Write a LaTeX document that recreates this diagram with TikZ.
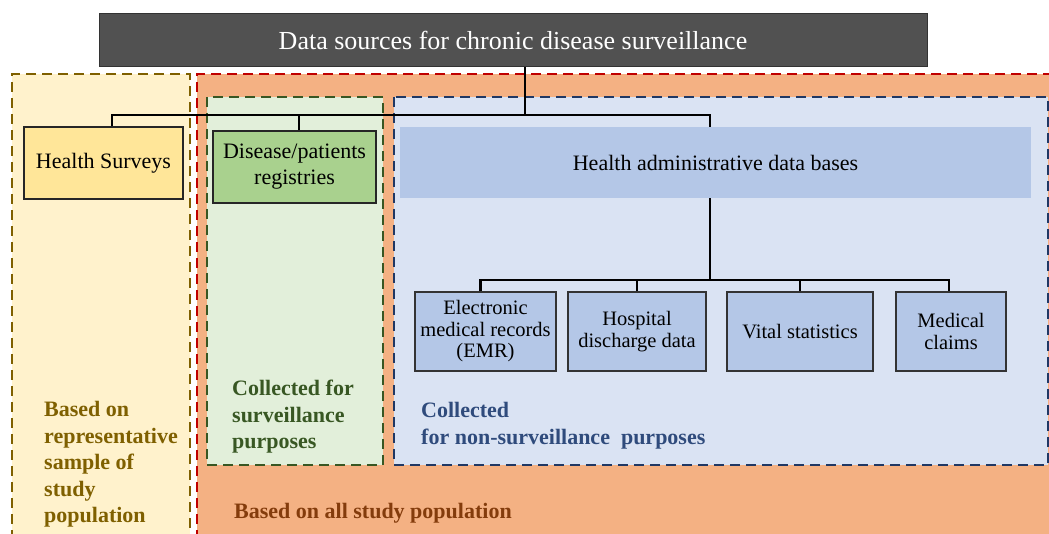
\documentclass[tikz,border=0pt]{standalone}
\usepackage{fontspec}
\setmainfont{Liberation Serif}
\definecolor{ybg}{HTML}{FFF2CC}
\definecolor{ybd}{HTML}{7F6000}
\definecolor{obg}{HTML}{F4B183}
\definecolor{rbd}{HTML}{C00000}
\definecolor{gbg}{HTML}{E2EFDA}
\definecolor{gbd}{HTML}{385723}
\definecolor{bbg}{HTML}{DAE3F3}
\definecolor{bbd}{HTML}{203864}
\definecolor{hsfill}{HTML}{FFE699}
\definecolor{regfill}{HTML}{A9D18E}
\definecolor{hadfill}{HTML}{B4C7E7}
\definecolor{titlefill}{HTML}{515151}
\definecolor{brownt}{HTML}{843C0C}
\definecolor{navyt}{HTML}{2F4B7C}
\begin{document}
\begin{tikzpicture}[x=1pt,y=-1pt,
  region/.style={line width=2.9pt, dash pattern=on 10pt off 6pt},
  box/.style={draw=black!85, line width=1.4pt, inner sep=0pt, align=center, font=\fontsize{22}{26}\selectfont},
  subbox/.style={draw=black!80, line width=1.4pt, fill=hadfill, inner sep=0pt, align=center, minimum height=79pt, font=\fontsize{20.5}{21.5}\selectfont},
  link/.style={line width=1.8pt},
  sublink/.style={line width=2.3pt},
  lbl/.style={inner sep=0pt, align=left, anchor=north west, font=\fontsize{22}{26.6}\selectfont\bfseries}
]
\useasboundingbox (0,0) rectangle (1049,534);
\fill[white] (0,0) rectangle (1049,534);
% regions
\fill[ybg] (12,74) rectangle (190,540);
\draw[region, ybd] (12,540) -- (12,74) -- (190,74) -- (190,540);
\fill[obg] (197,74) rectangle (1049,540);
\draw[region, rbd] (197,540) -- (197,74) -- (1052,74);
\filldraw[region, draw=gbd, fill=gbg] (207,97) rectangle (383,465);
\filldraw[region, draw=bbd, fill=bbg] (394,97) rectangle (1048,465);

% nodes
\node[draw=black!80, line width=1pt, fill=titlefill, minimum width=828pt, minimum height=53pt, inner sep=0pt,
      text=white, font=\fontsize{26}{30}\selectfont] (title) at (513,40.5) {Data sources for chronic disease surveillance};
\node[box, fill=hsfill, minimum width=159pt, minimum height=72pt] (hs) at (103.5,163) {Health Surveys};
\node[box, fill=regfill, minimum width=163pt, minimum height=72pt] (reg) at (294.5,167) {Disease/patients\\registries};
\node[fill=hadfill, minimum width=631pt, minimum height=71pt, inner sep=0pt, font=\fontsize{22}{26}\selectfont] (had) at (715.5,162.5) {Health administrative data bases};
\node[subbox, minimum width=141pt] (emr) at (485.5,331.5) {Electronic\\medical records\\(EMR)};
\node[subbox, minimum width=138pt] (hosp) at (637,331.5) {Hospital\\discharge data};
\node[subbox, minimum width=146pt] (vital) at (800,331.5) {Vital statistics};
\node[subbox, minimum width=110pt] (med) at (951,331.5) {Medical\\claims};

% connectors
\coordinate (bus) at (525,115);
\coordinate (hub) at (710,280);
\draw[link] (bus |- title.south) -- (bus);
\draw[link] ([xshift=8.5pt]hs.north) |- (bus) -| ([xshift=-5.5pt]had.north);
\draw[link] ([xshift=4.5pt]reg.north) -- ([xshift=4.5pt]reg.north |- bus);
\draw[sublink] (hub |- had.south) -- (hub);
\draw[sublink] ([xshift=-5pt]emr.north) |- (hub) -| ([xshift=-2pt]med.north);
\draw[sublink] (hosp.north) -- (hosp.north |- hub);
\draw[sublink] (vital.north) -- (vital.north |- hub);

% labels
\node[lbl, text=ybd] (lrep) at (44,401) {Based on\\representative\\sample of\\study\\population};
\node[lbl, text=gbd] (lsurv) at (232,380) {Collected for\\surveillance\\purposes};
\node[lbl, text=navyt] (lnon) at (421,402) {Collected\\for non-surveillance~ purposes};
\node[inner sep=0pt, anchor=base west, text=brownt, font=\fontsize{22}{26.6}\selectfont\bfseries] (lall) at (234,518) {Based on all study population};
\end{tikzpicture}
\end{document}
